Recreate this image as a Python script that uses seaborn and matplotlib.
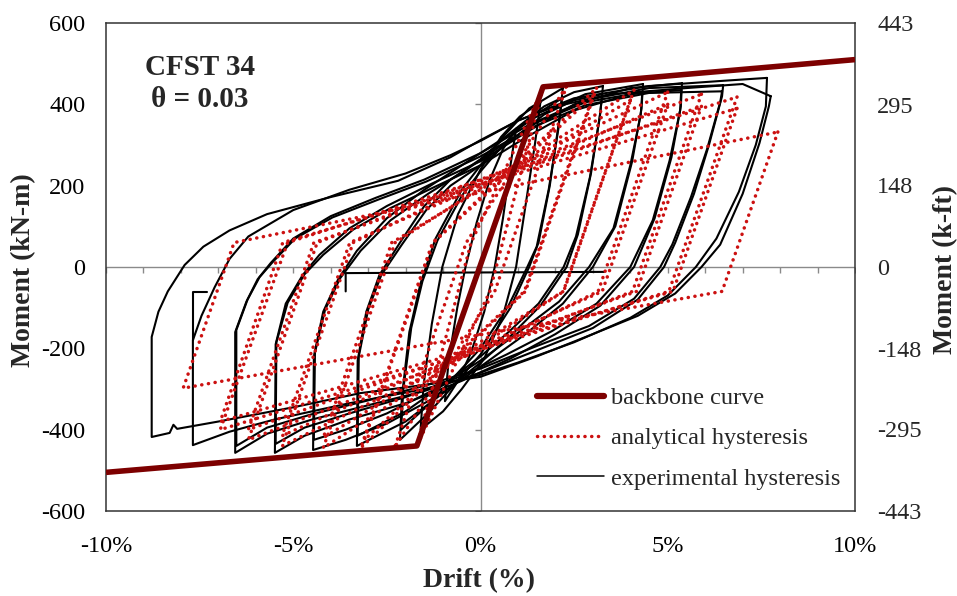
import numpy as np
import pandas as pd
import matplotlib
matplotlib.use("Agg")
import matplotlib.pyplot as plt
from matplotlib.lines import Line2D
import seaborn as sns

sns.set_style("white")
plt.rcParams["font.family"] = ["Liberation Serif", "DejaVu Serif"]
plt.rcParams["axes.unicode_minus"] = False

# ---------------- data: drift (%) and moment (kN-m) ----------------
backbone_drift = [-10.0, -1.70, 1.67, 10.0]
backbone_moment = [-505, -440, 443, 510]

# experimental hysteresis, one closed path per cycle
exp1_drift = [0.95, 0.80, 0.60, 0.38, 0.10, -0.25, -0.60, -0.95, -0.85, -0.62, -0.40, -0.10, 0.25, 0.60, 0.95]
exp1_moment = [340, 250, 120, 0, -110, -210, -280, -330, -230, -100, 0, 110, 215, 290, 340]

exp2_drift = [1.60, 1.45, 1.20, 0.95, 0.60, 0.10, -0.50, -1.00, -1.60, -1.52, -1.30, -1.02, -0.60, 0.00, 0.55, 1.05, 1.60]
exp2_moment = [405, 300, 150, 0, -120, -225, -300, -355, -400, -290, -140, 0, 130, 240, 320, 370, 405]

exp3_drift = [2.20, 2.10, 1.85, 1.55, 1.30, 0.80, 0.00, -0.70, -1.40, -2.15, -2.10, -1.90, -1.60, -1.20, -0.50, 0.00, 0.60, 1.30, 2.20]
exp3_moment = [440, 360, 200, 60, 0, -100, -215, -290, -360, -425, -320, -160, -40, 70, 190, 250, 320, 390, 440]
exp3b_drift = [2.18, 2.08, 1.82, 1.50, 1.25, 0.75, 0.00, -0.70, -1.40, -2.12, -2.06, -1.85, -1.55, -1.15, -0.50, 0.00, 0.60, 1.30, 2.18]
exp3b_moment = [415, 340, 190, 50, 0, -95, -200, -270, -340, -400, -300, -150, -35, 65, 175, 235, 300, 365, 415]

exp4_drift = [3.27, 3.20, 2.95, 2.60, 2.30, 1.60, 0.80, 0.00, -1.00, -2.00, -3.30, -3.28, -3.05, -2.70, -2.15, -1.50, -0.80, 0.00, 0.80, 1.70, 2.50, 3.27]
exp4_moment = [445, 380, 230, 80, 0, -95, -170, -235, -310, -380, -440, -230, -110, -20, 60, 150, 215, 265, 330, 395, 430, 445]
exp4b_drift = [3.25, 3.18, 2.92, 2.55, 2.22, 1.55, 0.75, 0.00, -1.00, -2.00, -3.28, -3.25, -3.00, -2.65, -2.10, -1.45, -0.80, 0.00, 0.80, 1.70, 2.50, 3.25]
exp4b_moment = [425, 365, 220, 75, 0, -90, -160, -220, -290, -355, -415, -220, -105, -20, 55, 140, 200, 250, 310, 375, 410, 425]

exp5_drift = [4.34, 4.30, 4.05, 3.60, 3.00, 2.20, 1.20, 0.00, -1.20, -2.50, -3.60, -4.47, -4.45, -4.20, -3.80, -3.30, -2.50, -1.50, -0.50, 0.50, 1.50, 2.80, 4.34]
exp5_moment = [450, 390, 260, 100, 0, -90, -165, -245, -320, -385, -425, -450, -220, -110, -30, 40, 120, 190, 250, 310, 370, 425, 450]
exp5b_drift = [4.32, 4.28, 4.00, 3.55, 2.90, 2.10, 1.10, 0.00, -1.20, -2.50, -3.60, -4.45, -4.42, -4.15, -3.75, -3.20, -2.40, -1.40, -0.40, 0.50, 1.50, 2.80, 4.32]
exp5b_moment = [430, 375, 250, 95, 0, -85, -155, -230, -300, -360, -400, -425, -210, -105, -28, 40, 115, 180, 238, 295, 355, 405, 430]

exp6_drift = [5.38, 5.35, 5.10, 4.65, 4.10, 3.20, 2.00, 0.80, -0.50, -2.00, -3.50, -4.70, -5.49, -5.47, -5.20, -4.75, -4.30, -3.50, -2.50, -1.30, 0.00, 1.20, 2.50, 4.00, 5.38]
exp6_moment = [452, 395, 270, 120, 0, -95, -165, -225, -280, -335, -375, -415, -457, -190, -90, -20, 30, 95, 150, 205, 260, 330, 400, 440, 452]
exp6b_drift = [5.36, 5.33, 5.05, 4.60, 4.00, 3.10, 1.90, 0.70, -0.50, -2.00, -3.50, -4.70, -5.47, -5.45, -5.15, -4.70, -4.20, -3.40, -2.40, -1.20, 0.00, 1.20, 2.50, 4.00, 5.36]
exp6b_moment = [435, 385, 262, 115, 0, -90, -158, -215, -268, -320, -360, -395, -435, -185, -88, -18, 30, 92, 145, 198, 250, 318, 385, 425, 435]

exp7_drift = [6.48, 6.45, 6.10, 5.70, 5.20, 4.90, 4.20, 3.00, 1.50, 0.00, -1.50, -3.00, -4.50, -5.70, -6.55, -6.55, -6.25, -5.95, -5.60, -5.00, -4.00, -2.80, -1.50, 0.00, 1.30, 2.80, 4.50, 6.48]
exp7_moment = [447, 420, 300, 180, 60, 0, -80, -150, -205, -260, -305, -340, -375, -410, -457, -160, -85, -30, 10, 70, 125, 170, 215, 280, 350, 410, 440, 447]
exp7b_drift = [6.45, 6.40, 6.05, 5.62, 5.12, 4.80, 4.10, 2.90, 1.40, 0.00, -1.50, -3.00, -4.50, -5.70, -6.52, -6.52, -6.22, -5.90, -5.55, -4.95, -3.95, -2.75, -1.45, 0.00, 1.30, 2.80, 4.50, 6.45]
exp7b_moment = [432, 405, 290, 172, 55, 0, -78, -145, -198, -250, -292, -328, -362, -395, -440, -155, -80, -25, 12, 70, 122, 165, 210, 272, 340, 398, 428, 432]

exp8_drift = [7.65, 7.62, 7.35, 6.90, 6.30, 5.75, 5.00, 4.00, 2.50, 1.00, 0.00, -1.50, -3.50, -5.50, -6.70, -7.68, -7.68, -7.45, -7.10, -6.70, -6.20, -5.00, -3.50, -2.00, -0.80, 0.00, 1.00, 2.50, 4.50, 6.50, 7.65]
exp8_moment = [465, 395, 300, 185, 70, 0, -70, -125, -185, -235, -265, -300, -335, -375, -405, -438, -180, -120, -50, 20, 75, 140, 190, 230, 275, 310, 360, 415, 445, 458, 465]

exp9_drift = [7.75, 7.70, 7.45, 7.00, 6.40, 5.90, 5.20, 4.20, 3.00, 1.50, 0.00, -1.50, -3.20, -5.00, -7.00, -8.10, -8.20, -8.30, -8.78, -8.78, -8.60, -8.35, -7.90, -7.40, -6.70, -5.70, -4.00, -2.20, -0.80, 0.00, 1.00, 2.00, 3.50, 5.50, 7.00, 7.75]
exp9_moment = [420, 395, 305, 180, 55, 0, -65, -120, -165, -220, -270, -290, -310, -345, -380, -398, -388, -408, -418, -172, -110, -60, 5, 50, 90, 130, 172, 212, 270, 312, 360, 395, 425, 440, 450, 420]

# interrupted traces near the axis and at the -7.7 % reversal
exp10_drift = [-3.60, -3.60, 3.30]
exp10_moment = [-60, -15, -12]
exp11_drift = [-7.68, -7.68, -7.30]
exp11_moment = [-180, -62, -62]

# analytical hysteresis (peak-oriented model with pinching)
ana1_drift = [1.67, 0.25, -1.70, -0.25, 1.67]
ana1_moment = [440, -60, -440, 60, 440]
ana2_drift = [2.30, 0.38, -2.30, -0.38, 2.30]
ana2_moment = [445, -60, -445, 60, 445]
ana3_drift = [3.10, 1.20, -3.20, -1.28, 3.10]
ana3_moment = [440, -60, -445, 60, 440]
ana3b_drift = [3.00, 1.17, -3.10, -1.26, 3.00]
ana3b_moment = [420, -60, -425, 60, 420]
ana4_drift = [4.10, 2.22, -4.20, -2.28, 4.10]
ana4_moment = [435, -60, -445, 60, 435]
ana4b_drift = [4.00, 2.21, -4.20, -2.37, 4.00]
ana4b_moment = [410, -60, -420, 60, 410]
ana5_drift = [5.00, 3.14, -5.30, -3.40, 5.00]
ana5_moment = [430, -60, -440, 60, 430]
ana5b_drift = [5.00, 3.25, -5.30, -3.49, 5.00]
ana5b_moment = [400, -60, -415, 60, 400]
ana6_drift = [5.90, 4.06, -6.20, -4.36, 5.90]
ana6_moment = [425, -60, -425, 60, 425]
ana6b_drift = [5.90, 4.17, -6.20, -4.45, 5.90]
ana6b_moment = [395, -60, -400, 60, 395]
ana7_drift = [6.85, 5.03, -6.95, -5.15, 6.85]
ana7_moment = [418, -60, -400, 60, 418]
ana7b_drift = [6.85, 5.14, -6.95, -5.28, 6.85]
ana7b_moment = [390, -60, -380, 60, 390]
ana8_drift = [7.94, 6.45, -7.94, -6.58, 7.94]
ana8_moment = [332, -60, -298, 60, 332]

x_ticks = [-10, -5, 0, 5, 10]
x_tick_labels = ["-10%", "-5%", "0%", "5%", "10%"]
y_ticks = [-600, -400, -200, 0, 200, 400, 600]
y2_ticks = [-443, -295, -148, 0, 148, 295, 443]

exp_loops = [
    (exp1_drift, exp1_moment), (exp2_drift, exp2_moment),
    (exp3_drift, exp3_moment), (exp3b_drift, exp3b_moment),
    (exp4_drift, exp4_moment), (exp4b_drift, exp4b_moment),
    (exp5_drift, exp5_moment), (exp5b_drift, exp5b_moment),
    (exp6_drift, exp6_moment), (exp6b_drift, exp6b_moment),
    (exp7_drift, exp7_moment), (exp7b_drift, exp7b_moment),
    (exp8_drift, exp8_moment), (exp9_drift, exp9_moment),
    (exp10_drift, exp10_moment), (exp11_drift, exp11_moment),
]
ana_loops = [
    (ana1_drift, ana1_moment), (ana2_drift, ana2_moment),
    (ana3_drift, ana3_moment), (ana3b_drift, ana3b_moment),
    (ana4_drift, ana4_moment), (ana4b_drift, ana4b_moment),
    (ana5_drift, ana5_moment), (ana5b_drift, ana5b_moment),
    (ana6_drift, ana6_moment), (ana6b_drift, ana6b_moment),
    (ana7_drift, ana7_moment), (ana7b_drift, ana7b_moment),
    (ana8_drift, ana8_moment),
]


def to_frame(loops):
    rows = []
    for k, (d, m) in enumerate(loops):
        for i, (x, y) in enumerate(zip(d, m)):
            rows.append({"loop": k, "order": i, "drift": x, "moment": y})
    return pd.DataFrame(rows)


exp_df = to_frame(exp_loops)
ana_df = to_frame(ana_loops)
bb_df = pd.DataFrame({"drift": backbone_drift, "moment": backbone_moment, "loop": 0})

DOTS = (0, (0.05, 1.9))

# ---------------- figure ----------------
fig = plt.figure(figsize=(9.57, 5.96), dpi=100)
ax = fig.add_axes([106 / 957, 1 - 511 / 596, 749 / 957, 488 / 596])

# centre cross lines with small ticks
ax.axhline(0, color="#8a8a8a", lw=1.0, zorder=1)
ax.axvline(0, color="#8a8a8a", lw=1.0, zorder=1)
ax.plot(np.arange(-10, 11), np.zeros(21), ls="none", marker=3, ms=4,
        mec="#8a8a8a", mew=1.0, zorder=1)
ax.plot(np.zeros(len(y_ticks)), y_ticks, ls="none", marker=0, ms=4,
        mec="#8a8a8a", mew=1.0, zorder=1)

sns.lineplot(data=exp_df, x="drift", y="moment", units="loop", estimator=None,
             sort=False, color="black", lw=1.5, ax=ax, legend=False, zorder=2)
sns.lineplot(data=ana_df, x="drift", y="moment", units="loop", estimator=None,
             sort=False, color="#cc1111", lw=2.5, linestyle=DOTS,
             dash_capstyle="round", ax=ax, legend=False, zorder=3)
sns.lineplot(data=bb_df, x="drift", y="moment", units="loop", estimator=None,
             sort=False, color="#7d0000", lw=4.0, ax=ax, legend=False, zorder=4,
             solid_capstyle="butt")

ax.set_xlim(-10, 10)
ax.set_ylim(-600, 600)
ax.set_xticks(x_ticks)
ax.set_xticklabels(x_tick_labels)
ax.set_yticks(y_ticks)
ax.set_yticklabels([str(v) for v in y_ticks])
ax.set_xlabel("")
ax.set_ylabel("")
ax.tick_params(axis="both", length=0, labelsize=17.5, colors="black")
ax.tick_params(axis="x", pad=18)
ax.tick_params(axis="y", pad=15)
for s in ax.spines.values():
    s.set_color("#333333")
    s.set_linewidth(1.1)
    s.set_visible(True)

ax2 = ax.twinx()
ax2.set_ylim(-443, 443)
ax2.set_yticks(y2_ticks)
ax2.set_yticklabels([str(v) for v in y2_ticks])
ax2.tick_params(axis="y", length=0, labelsize=17.5, pad=16)
for s in ax2.spines.values():
    s.set_visible(False)

ax.text(0.1255, 0.876, "CFST 34\nθ = 0.03", transform=ax.transAxes, ha="center",
        va="center", fontsize=21, fontweight="bold", linespacing=1.2)

fig.text(479 / 957, 1 - 581 / 596, "Drift (%)", ha="center", va="center",
         fontsize=20, fontweight="bold")
fig.text(24 / 957, 1 - 270 / 596, "Moment (kN-m)", ha="center", va="center",
         rotation=90, fontsize=20, fontweight="bold")
fig.text(946 / 957, 1 - 270 / 596, "Moment (k-ft)", ha="center", va="center",
         rotation=90, fontsize=20, fontweight="bold")

handles = [
    Line2D([], [], color="#7d0000", lw=4.5, solid_capstyle="round"),
    Line2D([], [], color="#cc1111", lw=2.5, linestyle=DOTS, dash_capstyle="round"),
    Line2D([], [], color="black", lw=1.1),
]
labels = ["backbone curve", "analytical hysteresis", "experimental hysteresis"]
ax.legend(handles, labels, loc="upper left", bbox_to_anchor=(0.5754, 0.254),
          frameon=False, fontsize=17.5, handlelength=2.75, handletextpad=0.3,
          labelspacing=0.75, borderpad=0, borderaxespad=0)

fig.savefig("out.png", dpi=100)
